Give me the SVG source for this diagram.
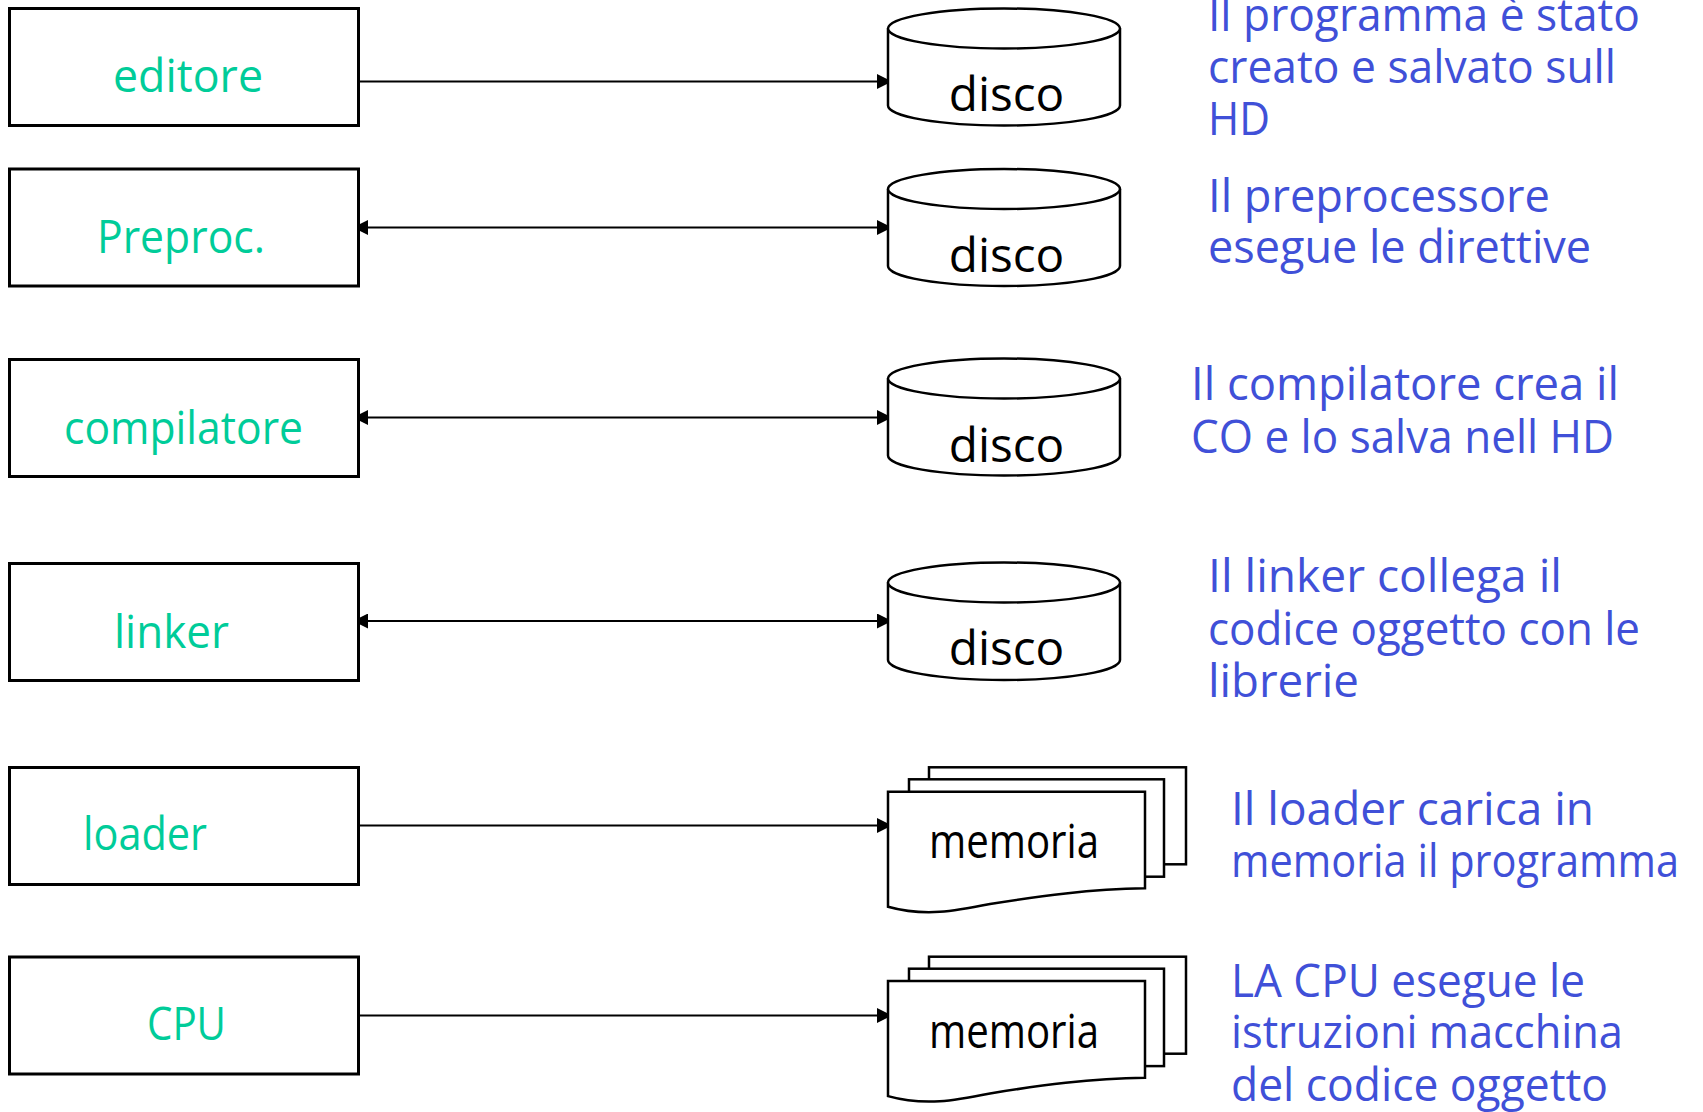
<svg xmlns="http://www.w3.org/2000/svg" width="1703" height="1112" viewBox="0 0 1703 1112">
<style>
.box{fill:#fff;stroke:#000;stroke-width:3}
.shape{fill:#fff;stroke:#000;stroke-width:2.5}
.lbl{font-family:"Open Sans","Noto Sans",sans-serif;font-size:46px;fill:#00CC99}
.dl{font-family:"Open Sans","Noto Sans",sans-serif;font-size:48px;fill:#000}
.note{font-family:"Open Sans","Noto Sans",sans-serif;font-size:46px;fill:#4050D8}
.conn{stroke:#000;stroke-width:2;fill:none}
</style>
<defs>
<marker id="ah" markerUnits="userSpaceOnUse" markerWidth="15" markerHeight="15" refX="15" refY="7.5" orient="auto-start-reverse">
<path d="M0,0 L15,7.5 L0,15 z" fill="#000"/>
</marker>
</defs>
<rect width="1703" height="1112" fill="#fff"/>

<g id="connectors">
<line class="conn" x1="358" y1="81.5" x2="892" y2="81.5" marker-end="url(#ah)"/>
<line class="conn" x1="353" y1="227.5" x2="892" y2="227.5" marker-start="url(#ah)" marker-end="url(#ah)"/>
<line class="conn" x1="353" y1="417.5" x2="892" y2="417.5" marker-start="url(#ah)" marker-end="url(#ah)"/>
<line class="conn" x1="353" y1="621" x2="892" y2="621" marker-start="url(#ah)" marker-end="url(#ah)"/>
<line class="conn" x1="358" y1="825.5" x2="892" y2="825.5" marker-end="url(#ah)"/>
<line class="conn" x1="358" y1="1015.5" x2="892" y2="1015.5" marker-end="url(#ah)"/>
</g>

<g id="editore"><rect class="box" x="9.5" y="8.5" width="349" height="117"/><text class="lbl" x="113" y="92" textLength="150" lengthAdjust="spacingAndGlyphs">editore</text></g>
<g id="preproc"><rect class="box" x="9.5" y="169" width="349" height="117"/><text class="lbl" x="97" y="253" textLength="168" lengthAdjust="spacingAndGlyphs">Preproc.</text></g>
<g id="compilatore"><rect class="box" x="9.5" y="359.5" width="349" height="117"/><text class="lbl" x="64" y="443.5" textLength="239" lengthAdjust="spacingAndGlyphs">compilatore</text></g>
<g id="linker"><rect class="box" x="9.5" y="563.5" width="349" height="117"/><text class="lbl" x="114" y="647.5" textLength="115" lengthAdjust="spacingAndGlyphs">linker</text></g>
<g id="loader"><rect class="box" x="9.5" y="767.5" width="349" height="117"/><text class="lbl" x="83" y="850" textLength="124" lengthAdjust="spacingAndGlyphs">loader</text></g>
<g id="cpu"><rect class="box" x="9.5" y="957" width="349" height="117"/><text class="lbl" x="147" y="1040" textLength="79" lengthAdjust="spacingAndGlyphs">CPU</text></g>

<g id="disco1">
<path class="shape" d="M888,28.5 V105.5 A116,20 0 0 0 1120,105.5 V28.5"/>
<ellipse class="shape" cx="1004" cy="28.5" rx="116" ry="20"/>
<text class="dl" x="948.7" y="111" textLength="115.6" lengthAdjust="spacingAndGlyphs">disco</text>
</g>
<g id="disco2">
<path class="shape" d="M888,189 V266 A116,20 0 0 0 1120,266 V189"/>
<ellipse class="shape" cx="1004" cy="189" rx="116" ry="20"/>
<text class="dl" x="948.7" y="271.7" textLength="115.6" lengthAdjust="spacingAndGlyphs">disco</text>
</g>
<g id="disco3">
<path class="shape" d="M888,378.5 V455.5 A116,20 0 0 0 1120,455.5 V378.5"/>
<ellipse class="shape" cx="1004" cy="378.5" rx="116" ry="20"/>
<text class="dl" x="948.7" y="461.7" textLength="115.6" lengthAdjust="spacingAndGlyphs">disco</text>
</g>
<g id="disco4">
<path class="shape" d="M888,582.5 V660 A116,20 0 0 0 1120,660 V582.5"/>
<ellipse class="shape" cx="1004" cy="582.5" rx="116" ry="20"/>
<text class="dl" x="948.7" y="665" textLength="115.6" lengthAdjust="spacingAndGlyphs">disco</text>
</g>

<g id="memoria1">
<rect class="shape" x="929" y="767.3" width="257" height="97"/>
<rect class="shape" x="909" y="779.3" width="255" height="97.4"/>
<path class="shape" d="M888,791.7 H1145 V888.3 C1090,889 1040,896 990,904 C955,911 925,917 888,906.7 Z"/>
<text class="dl" x="929" y="858.3" textLength="170" lengthAdjust="spacingAndGlyphs">memoria</text>
</g>
<g id="memoria2">
<rect class="shape" x="929" y="956.7" width="257" height="97"/>
<rect class="shape" x="909" y="968.7" width="255" height="97.4"/>
<path class="shape" d="M888,981.1 H1145 V1077.7 C1090,1078.4 1040,1085.4 990,1093.4 C955,1100.4 925,1106.4 888,1096.1 Z"/>
<text class="dl" x="929" y="1048.3" textLength="170" lengthAdjust="spacingAndGlyphs">memoria</text>
</g>

<g id="note1">
<text class="note" x="1208" y="31" textLength="432" lengthAdjust="spacingAndGlyphs">Il programma è stato</text>
<text class="note" x="1208" y="82.5" textLength="408" lengthAdjust="spacingAndGlyphs">creato e salvato sull</text>
<text class="note" x="1208" y="134.5" textLength="62" lengthAdjust="spacingAndGlyphs">HD</text>
</g>
<g id="note2">
<text class="note" x="1208" y="211.7" textLength="342" lengthAdjust="spacingAndGlyphs">Il preprocessore</text>
<text class="note" x="1208" y="263.3" textLength="383" lengthAdjust="spacingAndGlyphs">esegue le direttive</text>
</g>
<g id="note3">
<text class="note" x="1191" y="400" textLength="428" lengthAdjust="spacingAndGlyphs">Il compilatore crea il</text>
<text class="note" x="1191" y="452.7" textLength="423" lengthAdjust="spacingAndGlyphs">CO e lo salva nell HD</text>
</g>
<g id="note4">
<text class="note" x="1208" y="591.7" textLength="354" lengthAdjust="spacingAndGlyphs">Il linker collega il</text>
<text class="note" x="1208" y="645" textLength="432" lengthAdjust="spacingAndGlyphs">codice oggetto con le</text>
<text class="note" x="1208" y="696.7" textLength="151" lengthAdjust="spacingAndGlyphs">librerie</text>
</g>
<g id="note5">
<text class="note" x="1231" y="825" textLength="363" lengthAdjust="spacingAndGlyphs">Il loader carica in</text>
<text class="note" x="1231" y="876.7" textLength="448" lengthAdjust="spacingAndGlyphs">memoria il programma</text>
</g>
<g id="note6">
<text class="note" x="1231" y="996.7" textLength="354" lengthAdjust="spacingAndGlyphs">LA CPU esegue le</text>
<text class="note" x="1231" y="1048.3" textLength="392" lengthAdjust="spacingAndGlyphs">istruzioni macchina</text>
<text class="note" x="1231" y="1101" textLength="377" lengthAdjust="spacingAndGlyphs">del codice oggetto</text>
</g>
</svg>
